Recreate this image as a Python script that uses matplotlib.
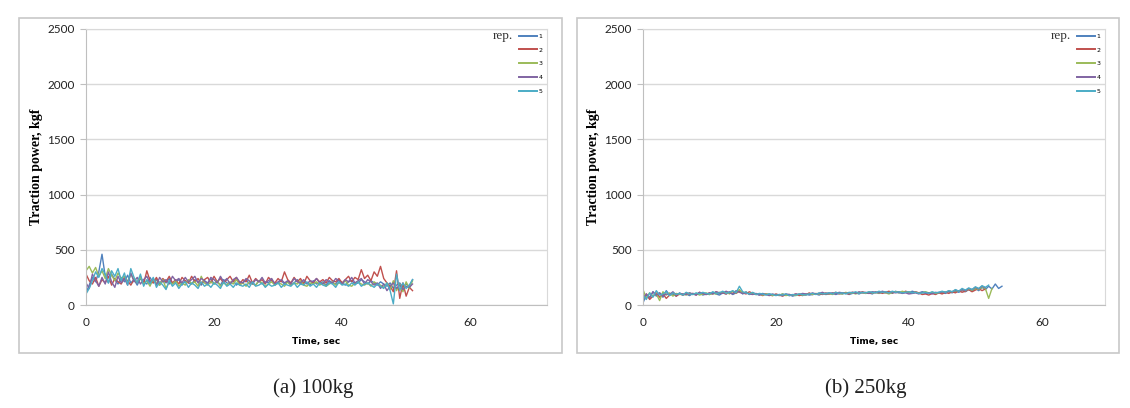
import numpy as np
import matplotlib
matplotlib.use('Agg')
import matplotlib.pyplot as plt
from matplotlib.patches import Rectangle

# sampling interval of the logger, sec
dt = 0.5

reps = ['1', '2', '3', '4', '5']
colors = ['#4F81BD', '#C0504D', '#9BBB59', '#8064A2', '#4BACC6']

# (a) 100kg - traction power, kgf
a_rep1 = [110, 180, 250, 210, 300, 460, 260, 200, 280, 230, 190, 250, 210, 270, 200, 230, 180, 240, 210, 190,
          250, 200, 230, 180, 220, 200, 240, 190, 210, 230, 180, 220, 200, 190, 230, 210, 180, 220, 200, 240,
          190, 210, 180, 230, 200, 190, 220, 180, 210, 200, 230, 190, 200, 180, 220, 190, 210, 200, 230, 180,
          200, 220, 190, 210, 180, 200, 230, 190, 210, 200, 180, 220, 190, 200, 210, 180, 220, 200, 190, 230,
          200, 180, 210, 220, 190, 200, 230, 210, 190, 220, 200, 180, 210, 190, 170, 200, 150, 180, 200, 160,
          190, 170, 230]
a_rep2 = [280, 220, 190, 250, 170, 230, 200, 260, 180, 240, 210, 190, 250, 220, 180, 230, 200, 260, 190, 310,
          220, 200, 250, 190, 240, 210, 260, 200, 230, 190, 250, 220, 200, 260, 210, 240, 190, 230, 250, 200,
          260, 210, 240, 200, 230, 260, 210, 250, 190, 230, 210, 270, 200, 240, 210, 230, 190, 250, 220, 200,
          240, 210, 300, 230, 200, 250, 210, 240, 190, 260, 220, 200, 240, 210, 230, 200, 250, 220, 210, 240,
          200, 230, 260, 210, 250, 230, 320, 240, 270, 220, 300, 260, 350, 240, 200, 170, 120, 310, 60, 200,
          80, 160, 130]
a_rep3 = [310, 350, 290, 340, 260, 310, 240, 330, 270, 220, 290, 240, 260, 200, 280, 230, 210, 250, 190, 220,
          170, 240, 200, 180, 230, 150, 210, 190, 220, 170, 200, 180, 230, 190, 210, 170, 260, 200, 180, 210,
          190, 220, 170, 200, 180, 210, 190, 230, 180, 200, 170, 210, 190, 180, 220, 200, 170, 190, 210, 180,
          200, 190, 170, 210, 180, 200, 190, 220, 180, 170, 200, 190, 210, 180, 200, 170, 190, 210, 180, 200,
          190, 220, 180, 170, 200, 210, 190, 180, 200, 170, 210, 190, 180, 160, 200, 140, 220, 130, 190, 120,
          210, 150, 220]
a_rep4 = [200, 150, 280, 220, 170, 250, 190, 300, 210, 160, 260, 200, 240, 180, 290, 210, 250, 190, 230, 260,
          200, 240, 180, 250, 210, 230, 190, 260, 220, 240, 200, 250, 210, 230, 260, 200, 240, 220, 190, 250,
          230, 200, 260, 210, 240, 190, 230, 250, 210, 200, 240, 220, 190, 230, 210, 250, 200, 220, 240, 190,
          210, 230, 200, 220, 190, 240, 210, 200, 230, 190, 220, 210, 240, 200, 190, 230, 210, 200, 240, 220,
          190, 230, 210, 250, 200, 220, 240, 190, 230, 210, 180, 200, 150, 190, 130, 170, 200, 150, 180, 140,
          170, 160, 190]
a_rep5 = [100, 150, 220, 300, 250, 330, 280, 200, 310, 260, 330, 220, 290, 180, 330, 250, 200, 280, 170, 230,
          190, 250, 160, 210, 180, 140, 220, 170, 200, 150, 190, 210, 160, 200, 180, 150, 210, 170, 190, 160,
          200, 180, 150, 210, 170, 190, 160, 200, 180, 170, 190, 160, 210, 170, 180, 200, 160, 190, 170, 180,
          200, 160, 190, 180, 170, 200, 160, 190, 180, 210, 170, 190, 160, 200, 180, 170, 200, 190, 160, 210,
          180, 190, 170, 200, 180, 210, 170, 190, 200, 180, 160, 190, 170, 150, 200, 130, 10, 280, 130, 200,
          150, 180, 230]

# (b) 250kg - traction power, kgf
b_rep1 = [20, 90, 60, 120, 80, 110, 70, 130, 90, 100, 80, 110, 90, 100, 85, 105, 95, 110, 90, 100,
          95, 115, 100, 90, 110, 100, 120, 95, 110, 130, 100, 120, 95, 110, 100, 90, 105, 95, 100, 90,
          95, 85, 100, 90, 95, 80, 90, 95, 85, 100, 90, 95, 100, 90, 105, 95, 100, 110, 95, 105,
          100, 110, 95, 105, 110, 100, 115, 105, 110, 100, 120, 105, 115, 110, 120, 105, 125, 110, 115, 120,
          110, 125, 115, 110, 120, 115, 105, 110, 100, 115, 110, 105, 120, 110, 125, 115, 130, 120, 140, 125,
          150, 130, 160, 140, 170, 145, 190, 150, 170]
b_rep2 = [60, 100, 50, 80, 110, 70, 100, 60, 90, 110, 80, 100, 90, 110, 95, 105, 90, 115, 100, 95,
          110, 100, 120, 105, 110, 100, 115, 120, 105, 125, 110, 100, 120, 105, 95, 100, 85, 100, 90, 85,
          100, 90, 80, 95, 85, 90, 100, 85, 95, 90, 110, 95, 100, 105, 95, 110, 100, 105, 115, 100,
          110, 105, 100, 115, 110, 105, 120, 110, 105, 115, 110, 120, 105, 115, 125, 110, 115, 120, 110, 125,
          115, 105, 120, 110, 95, 100, 90, 105, 95, 110, 100, 115, 105, 120, 110, 130, 115, 125, 140, 120,
          135, 150, 130, 145]
b_rep3 = [140, 60, 110, 80, 100, 40, 120, 90, 110, 80, 105, 95, 100, 90, 110, 95, 105, 90, 100, 110,
          95, 105, 100, 115, 110, 120, 100, 125, 110, 140, 105, 115, 100, 110, 95, 100, 90, 100, 95, 85,
          95, 90, 100, 85, 95, 90, 85, 100, 90, 95, 100, 95, 105, 100, 110, 100, 105, 95, 110, 105,
          100, 115, 105, 110, 100, 115, 110, 105, 120, 110, 115, 105, 120, 110, 100, 115, 120, 110, 125, 115,
          120, 110, 115, 105, 110, 120, 110, 115, 105, 110, 120, 115, 125, 120, 130, 125, 140, 130, 145, 135,
          150, 140, 160, 150, 60, 150]
b_rep4 = [50, 100, 70, 120, 90, 110, 80, 100, 95, 120, 90, 105, 100, 95, 110, 100, 90, 115, 105, 95,
          110, 100, 120, 110, 105, 125, 110, 100, 130, 115, 105, 110, 100, 95, 105, 90, 100, 95, 85, 100,
          90, 95, 85, 100, 95, 90, 100, 95, 105, 100, 95, 110, 100, 105, 115, 100, 110, 105, 100, 115,
          110, 105, 110, 115, 105, 120, 110, 115, 105, 120, 115, 110, 125, 115, 110, 120, 110, 115, 105, 110,
          100, 105, 110, 100, 115, 105, 110, 100, 115, 110, 120, 115, 125, 120, 135, 125, 140, 130, 150, 140,
          160, 145, 170, 155]
b_rep5 = [90, 50, 110, 70, 130, 90, 100, 120, 85, 110, 95, 105, 90, 115, 100, 95, 110, 100, 115, 105,
          100, 120, 105, 110, 125, 105, 115, 130, 110, 170, 120, 110, 100, 115, 95, 105, 100, 90, 100, 95,
          85, 95, 90, 100, 85, 95, 90, 100, 95, 90, 100, 105, 95, 110, 100, 105, 110, 100, 115, 105,
          110, 100, 115, 110, 120, 105, 115, 110, 120, 115, 110, 125, 115, 120, 110, 125, 115, 120, 110, 115,
          120, 110, 115, 105, 110, 115, 105, 120, 110, 115, 125, 115, 130, 120, 140, 125, 150, 135, 155, 140,
          165, 150, 175, 160, 180]

panels = [
    {'data': [a_rep1, a_rep2, a_rep3, a_rep4, a_rep5], 'xmax': 72, 'caption': '(a) 100kg'},
    {'data': [b_rep1, b_rep2, b_rep3, b_rep4, b_rep5], 'xmax': 69.5, 'caption': '(b) 250kg'},
]

W, H = 1130, 408
fig = plt.figure(figsize=(W / 100, H / 100), dpi=100)

def fx(px):
    return px / W

def fy(py):
    return 1 - py / H

# pixel layout of the two panels: outer box, plot area, caption centre
boxes = [(19, 562), (577, 1119)]
plots = [(86, 547), (643, 1105)]
capx = [313, 866]

grid_c = '#D9D9D9'
axis_c = '#BFBFBF'

for k, p in enumerate(panels):
    bx0, bx1 = boxes[k]
    fig.patches.append(Rectangle((fx(bx0), fy(353)), fx(bx1 - bx0), (353 - 18) / H,
                                 transform=fig.transFigure, fill=False, edgecolor='#C8C8C8', lw=1.2))
    px0, px1 = plots[k]
    ax = fig.add_axes([fx(px0), fy(305), fx(px1 - px0), (305 - 29) / H])

    for i, vals in enumerate(p['data']):
        t = np.arange(len(vals)) * dt
        ax.plot(t, vals, color=colors[i], lw=1.0, label=reps[i])

    ax.set_xlim(0, p['xmax'])
    ax.set_ylim(0, 2500)
    ax.set_xticks([0, 20, 40, 60])
    ax.set_yticks([0, 500, 1000, 1500, 2000, 2500])
    ax.yaxis.grid(True, color=grid_c, lw=1.0)
    ax.set_axisbelow(True)
    for side in ['top', 'right']:
        ax.spines[side].set_color(grid_c)
    for side in ['left', 'bottom']:
        ax.spines[side].set_color(axis_c)
    ax.tick_params(axis='y', length=4, color=axis_c, pad=4, labelsize=8.5)
    ax.tick_params(axis='x', length=0, pad=9, labelsize=8.5)
    for lab in ax.get_xticklabels() + ax.get_yticklabels():
        lab.set_family('Lato')
        lab.set_color('#222222')

    ax.set_ylabel('Traction power, kgf', family='Liberation Serif', fontweight='bold', fontsize=10, labelpad=3)
    ax.set_xlabel('Time, sec', family='DejaVu Sans', fontweight='bold', fontsize=6.5, labelpad=6)

    leg = ax.legend(loc='upper right', bbox_to_anchor=(1.0, 1.0), frameon=False, fontsize=4.5,
                    handlelength=3.0, handletextpad=0.2, labelspacing=1.35, borderpad=0.5,
                    borderaxespad=0.2)
    for line in leg.get_lines():
        line.set_linewidth(1.4)
    ax.text(1 - 34 / (px1 - px0), 1 - 7 / 276, 'rep.', transform=ax.transAxes, ha='right', va='center',
            family='Liberation Serif', fontsize=9.5, color='#333333')

    fig.text(fx(capx[k]), fy(388), p['caption'], ha='center', va='center',
             family='Liberation Serif', fontsize=15, color='#222222')

fig.savefig('out.png', dpi=100)
